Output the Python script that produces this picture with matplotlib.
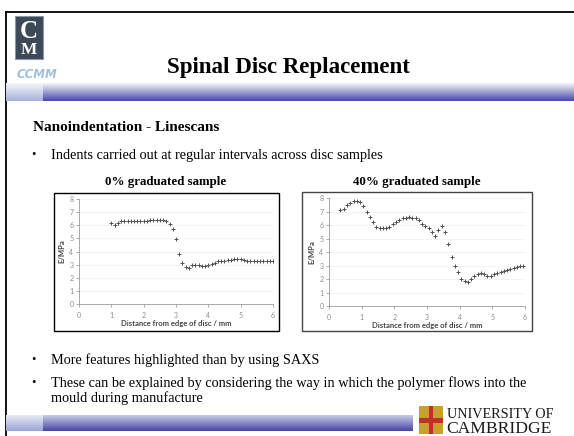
import numpy as np
import matplotlib
matplotlib.use("Agg")
import matplotlib.pyplot as plt
from matplotlib.patches import Rectangle

# ---------------- data ----------------
x0 = [1.0, 1.1, 1.2, 1.3, 1.4, 1.5, 1.6, 1.7, 1.8, 1.9, 2.0, 2.1, 2.2, 2.3, 2.4, 2.5,
      2.6, 2.7, 2.8, 2.9, 3.0, 3.1, 3.2, 3.3, 3.4, 3.5, 3.6, 3.7, 3.8, 3.9, 4.0, 4.1,
      4.2, 4.3, 4.4, 4.5, 4.6, 4.7, 4.8, 4.9, 5.0, 5.1, 5.2, 5.3, 5.4, 5.5, 5.6, 5.7,
      5.8, 5.9, 6.0]
e0 = [6.2, 6.05, 6.2, 6.3, 6.3, 6.35, 6.3, 6.3, 6.3, 6.3, 6.35, 6.35, 6.4, 6.4, 6.4, 6.4,
      6.4, 6.35, 6.1, 5.7, 4.95, 3.8, 3.1, 2.8, 2.75, 2.95, 3.0, 2.95, 2.9, 2.9, 2.95, 3.05,
      3.15, 3.25, 3.3, 3.3, 3.35, 3.35, 3.4, 3.4, 3.4, 3.35, 3.3, 3.3, 3.25, 3.25, 3.25, 3.25,
      3.3, 3.25, 3.3]

x40 = [0.35, 0.45, 0.55, 0.65, 0.75, 0.85, 0.95, 1.05, 1.15, 1.25, 1.35, 1.45, 1.55, 1.65,
       1.75, 1.85, 1.95, 2.05, 2.15, 2.25, 2.35, 2.45, 2.55, 2.65, 2.75, 2.85, 2.95, 3.05,
       3.15, 3.25, 3.35, 3.45, 3.55, 3.65, 3.75, 3.85, 3.95, 4.05, 4.15, 4.25, 4.35, 4.45,
       4.55, 4.65, 4.75, 4.85, 4.95, 5.05, 5.15, 5.25, 5.35, 5.45, 5.55, 5.65, 5.75, 5.85,
       5.95]
e40 = [7.1, 7.2, 7.5, 7.65, 7.75, 7.8, 7.7, 7.4, 7.0, 6.6, 6.2, 5.85, 5.75, 5.8,
       5.8, 5.85, 6.1, 6.2, 6.4, 6.5, 6.55, 6.6, 6.55, 6.5, 6.35, 6.1, 5.95, 5.75,
       5.5, 5.2, 5.65, 5.95, 5.5, 4.6, 3.6, 3.0, 2.5, 2.0, 1.85, 1.8, 2.0, 2.2,
       2.4, 2.45, 2.35, 2.2, 2.25, 2.35, 2.45, 2.5, 2.6, 2.65, 2.75, 2.85, 2.9, 2.95,
       3.0]

xticks = [0, 1, 2, 3, 4, 5, 6]
yticks = [0, 1, 2, 3, 4, 5, 6, 7, 8]

title = "Spinal Disc Replacement"
subtitle = "Nanoindentation - Linescans"
bullet1 = "Indents carried out at regular intervals across disc samples"
chart_titles = ["0% graduated sample", "40% graduated sample"]
bullet2 = "More features highlighted than by using SAXS"
bullet3a = "These can be explained by considering the way in which the polymer flows into the"
bullet3b = "mould during manufacture"

# ---------------- figure ----------------
W, H = 574, 436
fig = plt.figure(figsize=(W / 100, H / 100), dpi=100)
fig.patch.set_facecolor("white")

bg = fig.add_axes([0, 0, 1, 1], zorder=0)
bg.axis("off")

serif = "Liberation Serif"
sans = "Lato"

# slide border
bg.plot([5.5, 5.5], [12, H], color="black", lw=1.3)
bg.plot([5.5, W], [12, 12], color="black", lw=1.3)


def vgrad(x0_, x1_, y0_, y1_, c_top, c_bot, z=1):
    t = np.linspace(0, 1, 64)[:, None]
    c_top = np.array(matplotlib.colors.to_rgb(c_top))
    c_bot = np.array(matplotlib.colors.to_rgb(c_bot))
    img = (1 - t)[..., None] * c_top + t[..., None] * c_bot
    img = np.repeat(img, 2, axis=1)
    bg.imshow(img, extent=[x0_, x1_, y1_, y0_], aspect="auto", zorder=z, interpolation="bilinear")


# header gradient bar
vgrad(6, W, 84, 101, "#f4f5f9", "#4848a6")
vgrad(6, 43, 84, 101, "#f6f7fb", "#a8b0dc", z=2)

# bottom bar
vgrad(6, 413, 415, 431, "#c8cce8", "#4646a4")
vgrad(6, 43, 415, 431, "#e8eaf6", "#9aa4d8", z=2)
bg.set_xlim(0, W)
bg.set_ylim(H, 0)

# CCMM logo
bg.add_patch(Rectangle((15, 16), 28, 43, facecolor="#3c4a58", edgecolor="#8898a8", lw=0.8, zorder=3))
bg.text(29, 31, "C", color="white", fontsize=18, fontweight="bold", family=serif,
        ha="center", va="center", zorder=4)
bg.text(29, 50, "M", color="white", fontsize=12.5, fontweight="bold", family=serif,
        ha="center", va="center", zorder=4)
bg.text(37, 74, "CCMM", color="#9fc0dc", fontsize=8.5, style="italic", fontweight="bold",
        family="DejaVu Sans", ha="center", va="center", zorder=4)

# title
bg.text(288, 68, title, fontsize=16.5, fontweight="bold", family=serif, ha="center", va="center")

# subtitle and bullets
body = 10.25
bg.text(33, 127, subtitle, fontsize=11, fontweight="bold", family=serif, ha="left", va="center")
bg.text(31, 155, "\u2022", fontsize=9, family=serif, ha="left", va="center")
bg.text(51, 155, bullet1, fontsize=body, family=serif, ha="left", va="center")
bg.text(166, 182, chart_titles[0], fontsize=9.3, fontweight="bold", family=serif, ha="center", va="center")
bg.text(417, 182, chart_titles[1], fontsize=9.3, fontweight="bold", family=serif, ha="center", va="center")

bg.text(31, 360, "\u2022", fontsize=9, family=serif, ha="left", va="center")
bg.text(51, 360, bullet2, fontsize=body, family=serif, ha="left", va="center")
bg.text(31, 383, "\u2022", fontsize=9, family=serif, ha="left", va="center")
bg.text(51, 383, bullet3a, fontsize=body, family=serif, ha="left", va="center")
bg.text(51, 398, bullet3b, fontsize=body, family=serif, ha="left", va="center")

# Cambridge logo
sx, sy, sw, sh = 419, 406, 24, 28
bg.add_patch(Rectangle((sx, sy), sw, sh, facecolor="#c8a030", edgecolor="none", zorder=3))
bg.add_patch(Rectangle((sx + sw * 0.4, sy), sw * 0.2, sh, facecolor="#c03028", edgecolor="none", zorder=4))
bg.add_patch(Rectangle((sx, sy + sh * 0.42), sw, sh * 0.18, facecolor="#c03028", edgecolor="none", zorder=4))
bg.text(447, 414, "UNIVERSITY OF", fontsize=10.2, family=serif, color="#1a1a1a", ha="left", va="center")
bg.text(446, 429, "CAMBRIDGE", fontsize=12.6, family=serif, color="#1a1a1a", ha="left", va="center")

# chart boxes
bg.add_patch(Rectangle((54, 193), 225, 138, facecolor="white", edgecolor="black", lw=1.0, zorder=3))
bg.add_patch(Rectangle((302, 192), 230, 139, facecolor="white", edgecolor="#444444", lw=1.0, zorder=3))


def make_chart(px0, px1, py_top, py_bot, xs, ys):
    ax = fig.add_axes([px0 / W, 1 - py_bot / H, (px1 - px0) / W, (py_bot - py_top) / H], zorder=5)
    ax.set_facecolor("none")
    ax.plot(xs, ys, linestyle="none", marker="+", markersize=3.0, markeredgewidth=0.7, color="#505050")
    ax.set_xlim(0, 6)
    ax.set_ylim(0, 8)
    ax.set_xticks(xticks)
    ax.set_yticks(yticks)
    ax.tick_params(axis="both", labelsize=5, colors="#8a8a8a", length=2, width=0.5, pad=2)
    ax.tick_params(axis="x", pad=4)
    for s in ["top", "right"]:
        ax.spines[s].set_visible(False)
    for s in ["left", "bottom"]:
        ax.spines[s].set_color("#9a9a9a")
        ax.spines[s].set_linewidth(0.6)
    ax.grid(axis="y", color="#f0f0f0", lw=0.5)
    ax.set_axisbelow(True)
    for lab in ax.get_xticklabels() + ax.get_yticklabels():
        lab.set_family(sans)
    ax.set_ylabel("E/MPa", fontsize=5.5, fontweight="bold", family=sans, color="#444444", labelpad=3)
    ax.set_xlabel("Distance from edge of disc / mm", fontsize=5.5, fontweight="bold", family=sans,
                  color="#444444", labelpad=0.5)
    return ax


make_chart(79, 273, 199, 304, x0, e0)
make_chart(329, 525, 198, 306, x40, e40)

fig.savefig("out.png", dpi=100, facecolor="white")
